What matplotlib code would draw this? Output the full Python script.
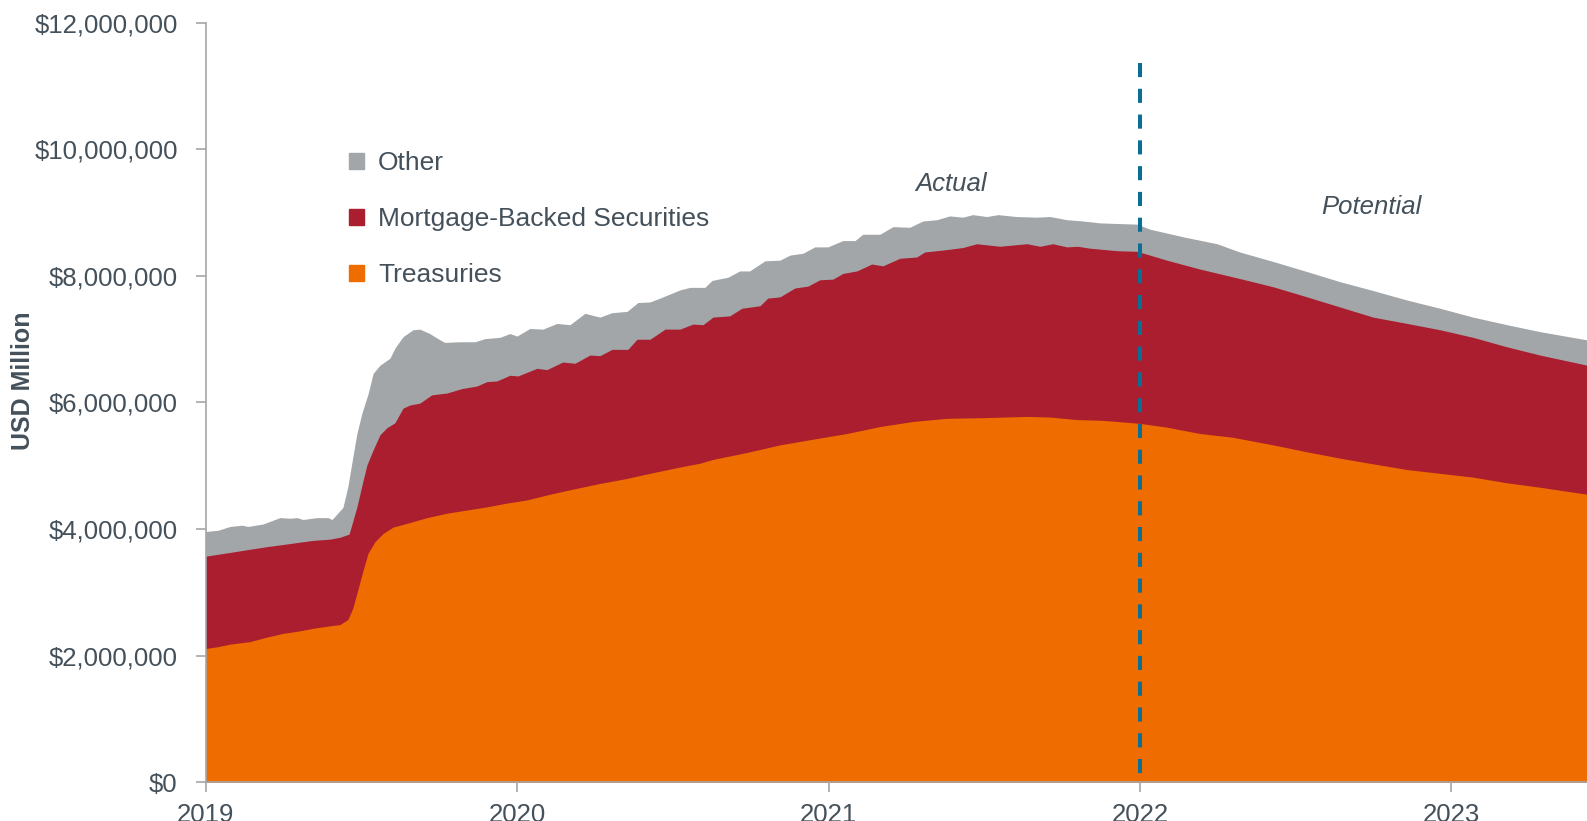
import matplotlib
matplotlib.use("Agg")
import matplotlib.pyplot as plt
from matplotlib.patches import Patch
from matplotlib.ticker import FuncFormatter

plt.rcParams["font.family"] = ["Liberation Sans", "DejaVu Sans"]

# stacked boundaries (USD million), x in decimal years
treas_x = [0.0, 0.040, 0.079, 0.143, 0.196, 0.249, 0.303, 0.345, 0.400, 0.432, 0.457, 0.473,
           0.489, 0.506, 0.522, 0.544, 0.570, 0.602, 0.647, 0.711, 0.775, 0.839, 0.903, 0.968,
           1.032, 1.106, 1.179, 1.266, 1.353, 1.436, 1.523, 1.587, 1.629, 1.738, 1.844, 1.950,
           2.059, 2.165, 2.271, 2.380, 2.495, 2.637, 2.711, 2.797, 2.871, 2.926, 3.000, 3.086,
           3.192, 3.298, 3.427, 3.536, 3.642, 3.748, 3.857, 3.963, 4.069, 4.178, 4.284, 4.435]
treas_top = [2.11, 2.14, 2.18, 2.22, 2.29, 2.35, 2.39, 2.43, 2.47, 2.49, 2.57, 2.75,
             3.04, 3.35, 3.62, 3.80, 3.93, 4.03, 4.09, 4.18, 4.25, 4.30, 4.35, 4.41,
             4.46, 4.55, 4.63, 4.72, 4.80, 4.89, 4.98, 5.04, 5.10, 5.21, 5.33, 5.42,
             5.51, 5.62, 5.70, 5.75, 5.76, 5.78, 5.77, 5.73, 5.72, 5.70, 5.67, 5.61,
             5.51, 5.45, 5.33, 5.22, 5.12, 5.03, 4.94, 4.88, 4.82, 4.73, 4.66, 4.55]

mbs_x = [0.0, 0.079, 0.143, 0.196, 0.271, 0.345, 0.400, 0.432, 0.461, 0.486, 0.506, 0.518,
         0.538, 0.560, 0.582, 0.608, 0.634, 0.656, 0.688, 0.726, 0.775, 0.823, 0.871, 0.903,
         0.935, 0.977, 1.003, 1.064, 1.096, 1.147, 1.186, 1.234, 1.266, 1.305, 1.356, 1.385,
         1.427, 1.475, 1.523, 1.565, 1.597, 1.629, 1.683, 1.722, 1.780, 1.805, 1.844, 1.892,
         1.934, 1.972, 2.014, 2.046, 2.091, 2.139, 2.174, 2.229, 2.283, 2.309, 2.367, 2.431,
         2.476, 2.550, 2.637, 2.679, 2.720, 2.765, 2.800, 2.838, 2.926, 2.990, 3.032, 3.086,
         3.192, 3.320, 3.427, 3.536, 3.642, 3.748, 3.857, 3.963, 4.069, 4.178, 4.284, 4.435]
mbs_top = [3.57, 3.63, 3.68, 3.72, 3.77, 3.82, 3.84, 3.87, 3.92, 4.35, 4.77, 5.01,
           5.25, 5.49, 5.60, 5.68, 5.91, 5.96, 5.99, 6.12, 6.15, 6.22, 6.26, 6.33,
           6.34, 6.43, 6.42, 6.54, 6.52, 6.64, 6.62, 6.75, 6.74, 6.84, 6.84, 7.00,
           7.00, 7.16, 7.16, 7.24, 7.23, 7.35, 7.37, 7.49, 7.53, 7.65, 7.67, 7.81,
           7.84, 7.94, 7.95, 8.04, 8.08, 8.19, 8.16, 8.28, 8.30, 8.38, 8.41, 8.45,
           8.51, 8.47, 8.51, 8.47, 8.51, 8.46, 8.47, 8.44, 8.40, 8.39, 8.33, 8.25,
           8.11, 7.96, 7.83, 7.67, 7.51, 7.35, 7.25, 7.15, 7.03, 6.88, 6.75, 6.59]

other_x = [0.0, 0.040, 0.079, 0.117, 0.136, 0.185, 0.239, 0.271, 0.294, 0.313, 0.358, 0.393,
           0.406, 0.441, 0.457, 0.473, 0.486, 0.502, 0.522, 0.538, 0.560, 0.592, 0.608, 0.634,
           0.666, 0.688, 0.720, 0.746, 0.768, 0.816, 0.865, 0.897, 0.945, 0.977, 1.000, 1.041,
           1.083, 1.128, 1.170, 1.218, 1.266, 1.305, 1.353, 1.388, 1.427, 1.459, 1.523, 1.555,
           1.603, 1.626, 1.677, 1.715, 1.747, 1.796, 1.844, 1.876, 1.918, 1.956, 1.998, 2.046,
           2.085, 2.110, 2.165, 2.207, 2.261, 2.303, 2.348, 2.389, 2.431, 2.463, 2.508, 2.544,
           2.604, 2.668, 2.711, 2.765, 2.816, 2.871, 2.926, 2.990, 3.032, 3.138, 3.247, 3.320,
           3.427, 3.536, 3.642, 3.748, 3.857, 3.963, 4.069, 4.178, 4.284, 4.435]
other_top = [3.96, 3.98, 4.04, 4.06, 4.04, 4.08, 4.18, 4.17, 4.18, 4.15, 4.18, 4.18,
             4.15, 4.34, 4.67, 5.14, 5.51, 5.83, 6.14, 6.46, 6.59, 6.70, 6.86, 7.04,
             7.15, 7.16, 7.09, 7.01, 6.95, 6.96, 6.96, 7.01, 7.03, 7.09, 7.05, 7.17,
             7.16, 7.25, 7.23, 7.41, 7.35, 7.42, 7.44, 7.58, 7.59, 7.65, 7.78, 7.82,
             7.82, 7.93, 7.98, 8.08, 8.08, 8.24, 8.25, 8.33, 8.36, 8.46, 8.46, 8.56,
             8.56, 8.66, 8.66, 8.78, 8.77, 8.87, 8.89, 8.95, 8.93, 8.97, 8.94, 8.97,
             8.94, 8.93, 8.94, 8.89, 8.87, 8.84, 8.83, 8.82, 8.74, 8.62, 8.51, 8.38,
             8.23, 8.07, 7.91, 7.77, 7.62, 7.49, 7.35, 7.23, 7.12, 6.99]

years = [2019, 2020, 2021, 2022, 2023]
split_year = 2022.0

c_treas = "#ef6c00"
c_mbs = "#aa1e2f"
c_other = "#a2a6a9"
c_text = "#44505a"

fig = plt.figure(figsize=(15.87, 8.21), dpi=100)
ax = fig.add_axes([0.1295, 0.0475, 0.8705, 0.9245])

def yr(xs):
    return [2019 + v for v in xs]

def usd(vs):
    return [v * 1e6 for v in vs]

ax.fill_between(yr(other_x), 0, usd(other_top), color=c_other, lw=0)
ax.fill_between(yr(mbs_x), 0, usd(mbs_top), color=c_mbs, lw=0)
ax.fill_between(yr(treas_x), 0, usd(treas_top), color=c_treas, lw=0)

# dashed divider between actual and potential, drawn top-down
ax.plot([split_year, split_year], [11.37e6, 0.0], color="#0b6e94", lw=2.9,
        dashes=(3.5, 2.9), solid_capstyle="butt", dash_capstyle="butt")

ax.set_xlim(2019, 2023.435)
ax.set_ylim(0, 12e6)
ax.set_xticks(years)
ax.set_xticklabels([str(y) for y in years])
ax.set_yticks([i * 2e6 for i in range(7)])
ax.yaxis.set_major_formatter(FuncFormatter(lambda v, p: "${:,.0f}".format(v)))

for s in ["top", "right"]:
    ax.spines[s].set_visible(False)
for s in ["left", "bottom"]:
    ax.spines[s].set_color("#a6a6a6")
    ax.spines[s].set_linewidth(1.2)
ax.tick_params(axis="y", direction="out", length=7, width=1.2, color="#a6a6a6",
               labelsize=18.5, labelcolor=c_text, pad=13)
ax.tick_params(axis="x", direction="out", length=7, width=1.2, color="#a6a6a6",
               labelsize=18.5, labelcolor=c_text, pad=8)

fig.text(23 / 1587, 1 - 381 / 821, "USD Million", rotation=90, ha="center", va="center",
         fontsize=18, fontweight="bold", color=c_text)

ax.text(2019 + (951 - 205.5) / 311.6, 1e6 * (782 - 184) / 63.25, "Actual", style="italic",
        fontsize=18.5, color=c_text, ha="center", va="center")
ax.text(2019 + (1372 - 205.5) / 311.6, 1e6 * (782 - 207) / 63.25, "Potential", style="italic",
        fontsize=18.5, color=c_text, ha="center", va="center")

handles = [Patch(color=c_other, label="Other"),
           Patch(color=c_mbs, label="Mortgage-Backed Securities"),
           Patch(color=c_treas, label="Treasuries")]
leg = ax.legend(handles=handles, loc="upper left", bbox_to_anchor=(349 / 1587, 1 - 151 / 821),
                bbox_transform=fig.transFigure, frameon=False, fontsize=19,
                handlelength=0.55, handleheight=0.55, handletextpad=0.55,
                labelspacing=1.22, borderpad=0, borderaxespad=0)
for t in leg.get_texts():
    t.set_color(c_text)

fig.savefig("out.png", dpi=100)
